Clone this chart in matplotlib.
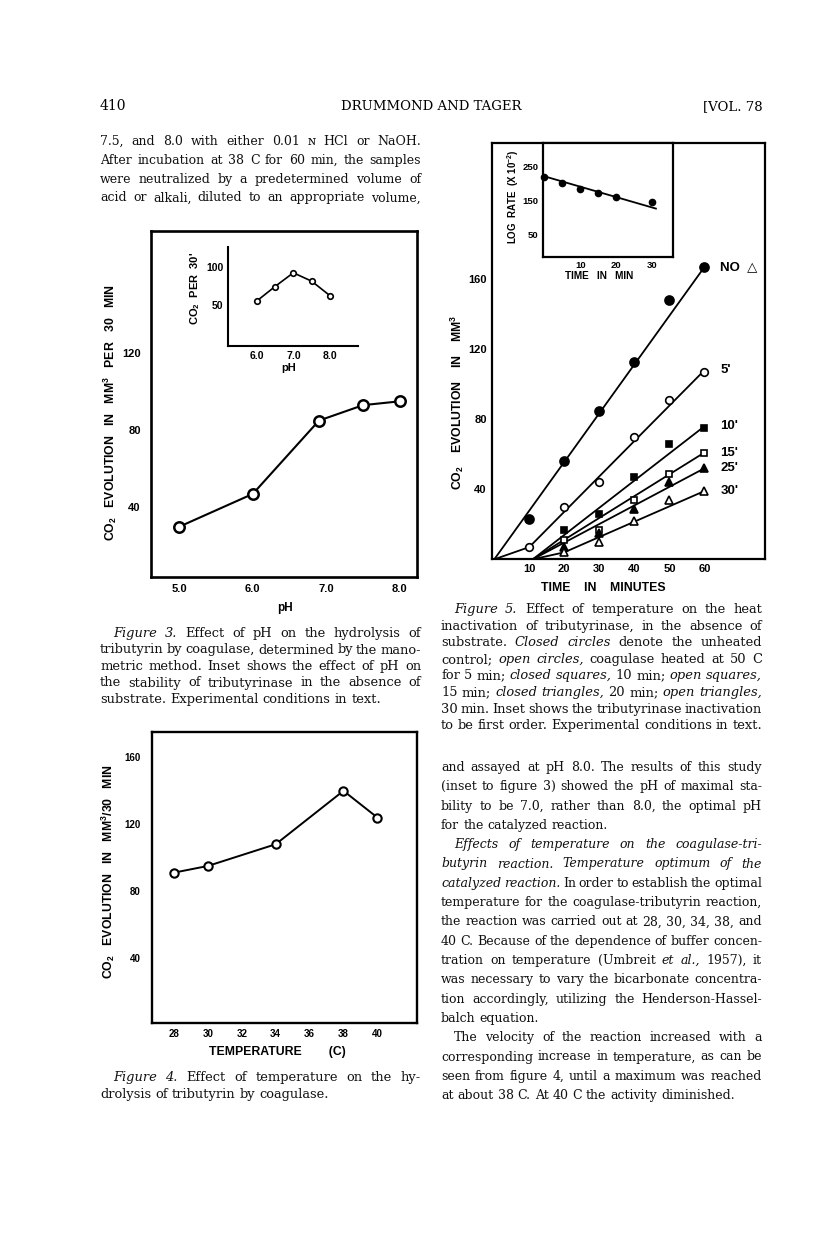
import matplotlib
matplotlib.use('Agg')
import matplotlib.pyplot as plt

plt.rcParams['mathtext.fontset'] = 'custom'
plt.rcParams['mathtext.rm'] = 'Liberation Sans:bold'
plt.rcParams['mathtext.bf'] = 'Liberation Sans:bold'
plt.rcParams['mathtext.it'] = 'Liberation Sans:bold'
plt.rcParams['mathtext.default'] = 'bf'

SANS = ['Liberation Sans', 'DejaVu Sans']
SERIF = ['DejaVu Serif', 'DejaVu Sans']

# ---------------- data ----------------
# Figure 3: effect of pH
fig3_ph = [5.0, 6.0, 6.9, 7.5, 8.0]
fig3_co2 = [30, 47, 85, 93, 95]
fig3_xticks = [5.0, 6.0, 7.0, 8.0]
fig3_yticks = [40, 80, 120]
# Figure 3 inset: pH stability
fig3_inset_ph = [6.0, 6.5, 7.0, 7.5, 8.0]
fig3_inset_co2 = [55, 74, 92, 81, 62]
fig3_inset_xticks = [6.0, 7.0, 8.0]
fig3_inset_yticks = [50, 100]

# Figure 4: effect of temperature
fig4_temp = [28, 30, 34, 38, 40]
fig4_co2 = [91, 95, 108, 140, 124]
fig4_xticks = [28, 30, 32, 34, 36, 38, 40]
fig4_yticks = [40, 80, 120, 160]

# Figure 5: heat inactivation
fig5_time_all = [10, 20, 30, 40, 50, 60]
fig5_time_heated = [20, 30, 40, 50, 60]
fig5_no = [23, 56, 85, 113, 148, 167]
fig5_5 = [7, 30, 44, 70, 91, 107]
fig5_10 = [17, 26, 47, 66, 75]
fig5_15 = [11, 17, 34, 49, 61]
fig5_25 = [7, 15, 29, 44, 52]
fig5_30 = [4, 10, 22, 34, 39]
fig5_labels = ['NO  \u25b3', "5'", "10'", "15'", "25'", "30'"]
# drawn (fitted) lines
fit_no_x, fit_no_y = [0, 60], [0, 167]
fit_5_x, fit_5_y = [0, 10, 60], [0, 7, 108]
fit_10_x, fit_10_y = [11, 60], [0, 76]
fit_15_x, fit_15_y = [11, 60], [0, 61]
fit_25_x, fit_25_y = [11, 60], [0, 52]
fit_30_x, fit_30_y = [11, 20, 60], [0, 4, 39]
fig5_xticks = [10, 20, 30, 40, 50, 60]
fig5_yticks = [40, 80, 120, 160]
# Figure 5 inset: log rate
fig5_inset_time = [0, 5, 10, 15, 20, 30]
fig5_inset_lograte = [221, 201, 185, 171, 161, 145]
fig5_inset_fit_x = [0, 31]
fig5_inset_fit_y = [222, 126]
fig5_inset_xticks = [10, 20, 30]
fig5_inset_yticks = [50, 150, 250]

# ---------------- page ----------------
W, H = 816, 1241
fig = plt.figure(figsize=(W / 100, H / 100), dpi=100)
fig.patch.set_facecolor('white')


def add_ax(l, t, r, b, zorder=1):
    return fig.add_axes([l / W, 1 - b / H, (r - l) / W, (b - t) / H], zorder=zorder)


def ftext(x, y, s, **kw):
    return fig.text(x / W, 1 - y / H, s, **kw)


LAB = dict(family=SANS, fontweight='bold', color='k', ha='center', va='center')
TICK = dict(family=SANS, fontweight='bold', color='k')


def style_axes(ax, lw, spines=('left', 'right', 'top', 'bottom')):
    for k, sp in ax.spines.items():
        sp.set_visible(k in spines)
        sp.set_linewidth(lw)
    ax.tick_params(length=0)


def set_ticks(ax, xt, xl, yt, yl, size, xpad, ypad):
    ax.set_xticks(xt, labels=xl, fontsize=size, **TICK)
    ax.set_yticks(yt, labels=yl, fontsize=size, **TICK)
    ax.tick_params(axis='x', pad=xpad * 0.72)
    ax.tick_params(axis='y', pad=ypad * 0.72)


# ---- Figure 3 ----
ax3 = add_ax(150.7, 231, 416.7, 577)
style_axes(ax3, 1.9)
ax3.plot(fig3_ph, fig3_co2, color='k', lw=1.5, marker='o', ms=7.5,
         mfc='white', mec='k', mew=1.8, clip_on=False)
ax3.set_xlim(4.61, 8.23)
ax3.set_ylim(3.9, 183.3)
set_ticks(ax3, fig3_xticks, [f'{v:.1f}' for v in fig3_xticks],
          fig3_yticks, [str(v) for v in fig3_yticks], 8, 7, 10)
ftext(285, 608, 'pH', fontsize=8.5, **LAB)
ftext(110, 413, 'CO$_2$   EVOLUTION   IN   MM$^3$   PER   30   MIN', rotation=90,
      fontsize=8.8, **LAB)

ax3i = add_ax(228.3, 246.7, 358, 346, zorder=2)
style_axes(ax3i, 1.5, spines=('left', 'bottom'))
ax3i.patch.set_alpha(0)
ax3i.plot(fig3_inset_ph, fig3_inset_co2, color='k', lw=1.2, marker='o', ms=4,
          mfc='white', mec='k', mew=1.2)
ax3i.set_xlim(5.23, 8.76)
ax3i.set_ylim(-3.5, 126)
set_ticks(ax3i, fig3_inset_xticks, [f'{v:.1f}' for v in fig3_inset_xticks],
          fig3_inset_yticks, [str(v) for v in fig3_inset_yticks], 7.5, 5, 5)
ftext(289, 368, 'pH', fontsize=8, **LAB)
ftext(195, 288, "CO$_2$  PER  30'", rotation=90, fontsize=8, **LAB)

# ---- Figure 4 ----
ax4 = add_ax(151.7, 732, 417, 1022.7)
style_axes(ax4, 1.7)
ax4.plot(fig4_temp, fig4_co2, color='k', lw=1.4, marker='o', ms=6,
         mfc='white', mec='k', mew=1.5)
ax4.set_xlim(26.68, 42.34)
ax4.set_ylim(1.08, 175.25)
set_ticks(ax4, fig4_xticks, [str(v) for v in fig4_xticks],
          fig4_yticks, [str(v) for v in fig4_yticks], 7, 6, 11)
ftext(277, 1052, 'TEMPERATURE        (C)', fontsize=8.8, **LAB)
ftext(108, 872, 'CO$_2$   EVOLUTION   IN   MM$^3$/30   MIN', rotation=90,
      fontsize=8.8, **LAB)

# ---- Figure 5 ----
ax5 = add_ax(491.7, 143.3, 765, 559.3)
style_axes(ax5, 1.6)
ax5.set_xlim(-0.74, 77.3)
ax5.set_ylim(0, 237.7)
fits = [(fit_no_x, fit_no_y), (fit_5_x, fit_5_y), (fit_10_x, fit_10_y),
        (fit_15_x, fit_15_y), (fit_25_x, fit_25_y), (fit_30_x, fit_30_y)]
for fx, fy in fits:
    ax5.plot(fx, fy, color='k', lw=1.3, solid_capstyle='round')
series = [
    (fig5_time_all, fig5_no, 'o', 'k', 6.5),
    (fig5_time_all, fig5_5, 'o', 'white', 5.5),
    (fig5_time_heated, fig5_10, 's', 'k', 4.8),
    (fig5_time_heated, fig5_15, 's', 'white', 4.8),
    (fig5_time_heated, fig5_25, '^', 'k', 5.2),
    (fig5_time_heated, fig5_30, '^', 'white', 5.2),
]
for xs, ys, mk, fc, ms in series:
    ax5.plot(xs, ys, linestyle='none', marker=mk, ms=ms, mfc=fc, mec='k',
             mew=1.2, zorder=3)
for (fx, fy), lab in zip(fits, fig5_labels):
    ax5.text(64.5, fy[-1], lab, ha='left', va='center', fontsize=9.5,
             clip_on=False, **TICK)
set_ticks(ax5, fig5_xticks, [str(v) for v in fig5_xticks],
          fig5_yticks, [str(v) for v in fig5_yticks], 8, 5, 5)
ftext(603, 588, 'TIME    IN    MINUTES', fontsize=8.8, **LAB)
ftext(457, 402, 'CO$_2$    EVOLUTION    IN    MM$^3$', rotation=90, fontsize=8.8, **LAB)

ax5i = add_ax(542.7, 143.3, 673, 256.7, zorder=3)
style_axes(ax5i, 1.6)
ax5i.set_facecolor('white')
ax5i.plot(fig5_inset_fit_x, fig5_inset_fit_y, color='k', lw=1.3, clip_on=False)
ax5i.plot(fig5_inset_time, fig5_inset_lograte, linestyle='none', marker='o',
          ms=4.5, mfc='k', mec='k', clip_on=False)
ax5i.set_xlim(-0.44, 35.75)
ax5i.set_ylim(-17, 320)
set_ticks(ax5i, fig5_inset_xticks, [str(v) for v in fig5_inset_xticks],
          fig5_inset_yticks, [str(v) for v in fig5_inset_yticks], 6.8, 4, 4)
ftext(599, 276, 'TIME   IN   MIN', fontsize=7.2, **LAB)
ftext(513, 197, 'LOG  RATE  (X 10$^{-2}$)', rotation=90, fontsize=7, **LAB)

# ---------------- running text ----------------
renderer = fig.canvas.get_renderer()
_cache = {}


def tw(s, size, italic):
    key = (s, round(size, 2), italic)
    if key not in _cache:
        t = fig.text(0, 0, s, fontsize=size, family=SERIF,
                     style='italic' if italic else 'normal')
        _cache[key] = t.get_window_extent(renderer).width
        t.remove()
    return _cache[key]


def tokens(line):
    out = []
    ital = False
    for w in line.split():
        if w.startswith('*'):
            ital = True
            w = w[1:]
        end = w.endswith('*')
        if end:
            w = w[:-1]
        out.append((w, ital))
        if end:
            ital = False
    return out


def space_w(size):
    return tw('n n', size, False) - tw('nn', size, False)


def natural(text, size):
    toks = tokens(text)
    return sum(tw(w, size, it) for w, it in toks) + space_w(size) * (len(toks) - 1)


def pick_size(blocks, width, indent=13):
    # largest size whose median justified-line width fills ~97% of the column
    size = 12.0
    while size > 6:
        ws = sorted(natural(t, size) / (width - (indent if ind else 0))
                    for blk in blocks for t, ind, just in blk if just)
        if ws[len(ws) // 2] <= 0.965:
            return size
        size -= 0.1
    return size


def draw_block(lines, x0, width, y0, dy, size, indent=13):
    for i, (text, ind, just) in enumerate(lines):
        avail = width - (indent if ind else 0)
        s = size
        toks = tokens(text)
        # shrink a single line only if it cannot fit with tight spacing
        while True:
            widths = [tw(w, s, it) for w, it in toks]
            if sum(widths) + 0.35 * space_w(s) * (len(toks) - 1) <= avail or s < 5:
                break
            s -= 0.1
        sp = space_w(s)
        gap = sp
        if just and len(toks) > 1:
            gap = (avail - sum(widths)) / (len(toks) - 1)
        x = x0 + (indent if ind else 0)
        y = y0 + i * dy
        for (w, it), wd in zip(toks, widths):
            ftext(x, y, w, fontsize=s, family=SERIF,
                  style='italic' if it else 'normal', ha='left', va='baseline',
                  color='#111111')
            x += wd + gap


# page header
ftext(100, 110, '410', family=SERIF, fontsize=10, ha='left', va='baseline')
ftext(431, 110, 'DRUMMOND AND TAGER', family=SERIF, fontsize=9.5, ha='center',
      va='baseline')
ftext(763, 110, '[VOL. 78', family=SERIF, fontsize=9.5, ha='right', va='baseline')

left_top = [
    ('7.5, and 8.0 with either 0.01 \u0274 HCl or NaOH.', False, True),
    ('After incubation at 38 C for 60 min, the samples', False, True),
    ('were neutralized by a predetermined volume of', False, True),
    ('acid or alkali, diluted to an appropriate volume,', False, True),
]
fig3_caption = [
    ('*Figure 3.* Effect of pH on the hydrolysis of', True, True),
    ('tributyrin by coagulase, determined by the mano-', False, True),
    ('metric method. Inset shows the effect of pH on', False, True),
    ('the stability of tributyrinase in the absence of', False, True),
    ('substrate. Experimental conditions in text.', False, False),
]
fig4_caption = [
    ('*Figure 4.* Effect of temperature on the hy-', True, True),
    ('drolysis of tributyrin by coagulase.', False, False),
]
fig5_caption = [
    ('*Figure 5.* Effect of temperature on the heat', True, True),
    ('inactivation of tributyrinase, in the absence of', False, True),
    ('substrate. *Closed circles* denote the unheated', False, True),
    ('control; *open circles,* coagulase heated at 50 C', False, True),
    ('for 5 min; *closed squares,* 10 min; *open squares,*', False, True),
    ('15 min; *closed triangles,* 20 min; *open triangles,*', False, True),
    ('30 min. Inset shows the tributyrinase inactivation', False, True),
    ('to be first order. Experimental conditions in text.', False, True),
]
right_body = [
    ('and assayed at pH 8.0. The results of this study', False, True),
    ('(inset to figure 3) showed the pH of maximal sta-', False, True),
    ('bility to be 7.0, rather than 8.0, the optimal pH', False, True),
    ('for the catalyzed reaction.', False, False),
    ('*Effects of temperature on the coagulase-tri-*', True, True),
    ('*butyrin reaction. Temperature optimum of the*', False, True),
    ('*catalyzed reaction.* In order to establish the optimal', False, True),
    ('temperature for the coagulase-tributyrin reaction,', False, True),
    ('the reaction was carried out at 28, 30, 34, 38, and', False, True),
    ('40 C. Because of the dependence of buffer concen-', False, True),
    ('tration on temperature (Umbreit *et al.,* 1957), it', False, True),
    ('was necessary to vary the bicarbonate concentra-', False, True),
    ('tion accordingly, utilizing the Henderson-Hassel-', False, True),
    ('balch equation.', False, False),
    ('The velocity of the reaction increased with a', True, True),
    ('corresponding increase in temperature, as can be', False, True),
    ('seen from figure 4, until a maximum was reached', False, True),
    ('at about 38 C. At 40 C the activity diminished.', False, False),
]

body_size = pick_size([left_top, right_body], 321)
cap_size = pick_size([fig3_caption, fig4_caption, fig5_caption], 321)

draw_block(left_top, 100, 321, 145, 18.8, body_size)
draw_block(fig3_caption, 100, 321, 637, 16.5, cap_size)
draw_block(fig4_caption, 100, 321, 1081, 17, cap_size)
draw_block(fig5_caption, 441, 321, 613, 16.6, cap_size)
draw_block(right_body, 441, 321, 771, 19.3, body_size)

fig.savefig('out.png', dpi=100, facecolor='white')
